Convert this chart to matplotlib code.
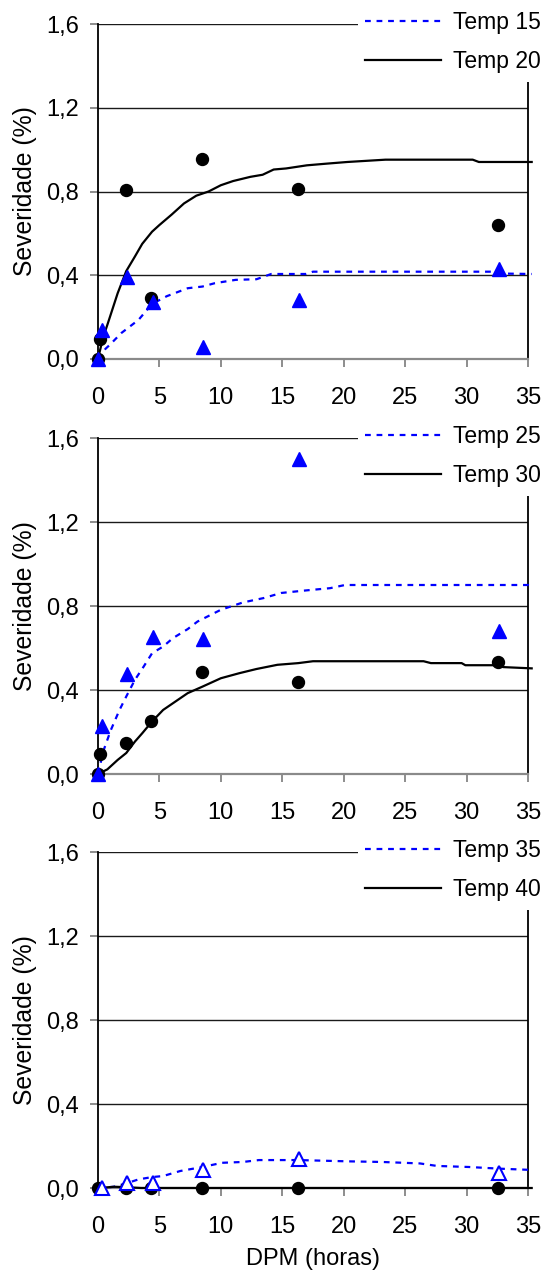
import matplotlib
matplotlib.use("Agg")
import matplotlib.pyplot as plt
from matplotlib.lines import Line2D
from matplotlib.patches import Rectangle

plt.rcParams['font.family'] = ['Liberation Sans', 'DejaVu Sans']

# ---------------- data ----------------
y_ticks = [0.0, 0.4, 0.8, 1.2, 1.6]
y_tick_labels = ["0,0", "0,4", "0,8", "1,2", "1,6"]
x_ticks = [0, 5, 10, 15, 20, 25, 30, 35]
x_tick_labels = ["0", "5", "10", "15", "20", "25", "30", "35"]

obs_x_circ = [0, 0.2, 2.3, 4.35, 8.5, 16.25, 32.55]
obs_x_tri = [0, 0.3, 2.4, 4.45, 8.55, 16.35, 32.65]
obs_x_circ_p3 = [0, 2.3, 4.35, 8.5, 16.25, 32.55]
obs_x_tri_p3 = [0.3, 2.4, 4.45, 8.55, 16.35, 32.65]

# Panel 1
t15_obs = [0.0, 0.14, 0.39, 0.27, 0.058, 0.28, 0.43]
t20_obs = [0.0, 0.096, 0.806, 0.29, 0.954, 0.814, 0.64]
t15_fit_x = [0, 0.6, 1.0, 1.9, 3.3, 4.4, 5.6, 7.3, 8.5, 9.5, 11.2, 12.9, 14.1, 16.9, 17.5, 25, 32, 33, 35.3]
t15_fit_y = [0.0, 0.048, 0.07, 0.124, 0.187, 0.263, 0.30, 0.338, 0.346, 0.362, 0.378, 0.381, 0.406, 0.406, 0.417, 0.417, 0.417, 0.408, 0.406]
t20_fit_x = [0, 0.4, 0.8, 1.6, 2.3, 3.0, 3.6, 4.4, 5.0, 6.0, 7.0, 8.0, 9.0, 10.0, 11.0, 12.4, 13.4, 14.3, 15.3, 17.0, 18.6, 20.3, 23.4, 30.5, 31.0, 35.3]
t20_fit_y = [0.0, 0.10, 0.17, 0.314, 0.42, 0.489, 0.55, 0.608, 0.64, 0.69, 0.743, 0.78, 0.80, 0.83, 0.85, 0.87, 0.88, 0.905, 0.91, 0.925, 0.933, 0.941, 0.952, 0.952, 0.941, 0.941]

# Panel 2
t25_obs = [0.0, 0.229, 0.477, 0.653, 0.644, 1.50, 0.68]
t30_obs = [0.0, 0.095, 0.15, 0.253, 0.485, 0.437, 0.533]
t25_fit_x = [0, 0.2, 0.5, 1.05, 1.75, 2.3, 3.0, 3.7, 4.4, 5.3, 6.1, 7.3, 8.1, 10.0, 11.8, 13.5, 14.9, 16.9, 18.9, 20.1, 35.0, 35.3]
t25_fit_y = [0.0, 0.05, 0.12, 0.21, 0.305, 0.369, 0.448, 0.51, 0.575, 0.607, 0.647, 0.69, 0.726, 0.782, 0.817, 0.838, 0.862, 0.874, 0.885, 0.90, 0.90, 0.893]
t30_fit_x = [0, 0.76, 1.6, 2.3, 3.0, 3.6, 4.4, 5.3, 6.1, 7.3, 8.5, 10.0, 11.5, 12.9, 14.6, 16.3, 17.5, 26.5, 27.1, 29.6, 29.9, 32.5, 33.0, 35.3]
t30_fit_y = [0.0, 0.022, 0.067, 0.10, 0.154, 0.194, 0.25, 0.305, 0.337, 0.385, 0.416, 0.456, 0.48, 0.50, 0.52, 0.528, 0.537, 0.537, 0.528, 0.528, 0.518, 0.518, 0.509, 0.503]

# Panel 3
t35_obs = [0.0, 0.024, 0.024, 0.086, 0.136, 0.073]
t40_obs = [0.0, 0.0, 0.0, 0.0, 0.0, 0.0]
t35_fit_x = [0, 0.2, 1.3, 2.3, 3.3, 4.4, 5.3, 6.7, 8.5, 10.1, 11.8, 13.1, 16.3, 20.3, 23.1, 26.2, 27.6, 30.2, 32.7, 35.3]
t35_fit_y = [0.0, 0.0, 0.006, 0.022, 0.041, 0.052, 0.057, 0.081, 0.10, 0.12, 0.124, 0.133, 0.133, 0.127, 0.124, 0.117, 0.105, 0.10, 0.092, 0.086]
t40_fit_x = [0, 0.5, 1.3, 2.3, 3.5, 10, 20, 35.3]
t40_fit_y = [0.0, 0.002, 0.006, 0.004, 0.0, 0.0, 0.0, 0.0]

panels = [
    ("Temp 15", "Temp 20", obs_x_tri, t15_obs, obs_x_circ, t20_obs,
     t15_fit_x, t15_fit_y, t20_fit_x, t20_fit_y, True),
    ("Temp 25", "Temp 30", obs_x_tri, t25_obs, obs_x_circ, t30_obs,
     t25_fit_x, t25_fit_y, t30_fit_x, t30_fit_y, True),
    ("Temp 35", "Temp 40", obs_x_tri_p3, t35_obs, obs_x_circ_p3, t40_obs,
     t35_fit_x, t35_fit_y, t40_fit_x, t40_fit_y, False),
]

# ---------------- figure ----------------
W, H = 545, 1270
fig = plt.figure(figsize=(W / 100, H / 100), dpi=100)
BLUE = '#0000FF'
FS = 17
FS_LEG = 16.5
dash = (0, (2.6, 2.6))

left_px, right_px = 98, 528
tops = [24, 438, 852]
bottoms = [359, 774, 1188]

axes = []
for i, (lab_a, lab_b, xa, obs_a, xb, obs_b, fxa, fya, fxb, fyb, filled) in enumerate(panels):
    ax = fig.add_axes([left_px / W, 1 - bottoms[i] / H,
                       (right_px - left_px) / W, (bottoms[i] - tops[i]) / H])
    axes.append(ax)
    ax.set_xlim(0, 35)
    ax.set_ylim(0, 1.6)
    ax.yaxis.grid(True, color='#1a1a1a', lw=1.0)
    ax.set_axisbelow(True)
    ax.spines['top'].set_visible(False)
    ax.spines['left'].set_color('black')
    ax.spines['left'].set_linewidth(1.3)
    ax.spines['right'].set_color('black')
    ax.spines['right'].set_linewidth(1.3)
    ax.spines['bottom'].set_color('#8a8a8a')
    ax.spines['bottom'].set_linewidth(1.6)
    ax.set_yticks(y_ticks)
    ax.set_yticklabels(y_tick_labels)
    ax.set_xticks(x_ticks)
    ax.set_xticklabels(x_tick_labels)
    ax.tick_params(axis='both', direction='out', length=5.8, width=1.2,
                   color='#7a7a7a', labelsize=FS)
    ax.tick_params(axis='y', pad=8.0)
    ax.tick_params(axis='x', pad=14.5)
    ax.set_ylabel("Severidade (%)", fontsize=17.8)
    ax.yaxis.set_label_coords(-0.143, 0.5)

    # fitted curves
    ax.plot(fxa, fya, color=BLUE, lw=1.6, linestyle=dash, clip_on=False, zorder=3)
    ax.plot(fxb, fyb, color='black', lw=1.6, clip_on=False, zorder=3)
    # observations
    ax.plot(xb, obs_b, linestyle='none', marker='o', ms=8.6,
            color='black', clip_on=False, zorder=4)
    if filled:
        ax.plot(xa, obs_a, linestyle='none', marker='^', ms=9.5,
                color=BLUE, clip_on=False, zorder=5)
    else:
        ax.plot(xa, obs_a, linestyle='none', marker='^', ms=9.5,
                markerfacecolor='white', markeredgecolor=BLUE, markeredgewidth=1.5,
                clip_on=False, zorder=5)

    # white legend area
    ax.add_patch(Rectangle((0.605, 1 - 58 / 336), 0.5, 0.2, transform=ax.transAxes,
                           facecolor='white', edgecolor='none', clip_on=False, zorder=6))
    handles = [Line2D([], [], color=BLUE, lw=1.6, linestyle=dash),
               Line2D([], [], color='black', lw=1.6)]
    leg = ax.legend(handles, [lab_a, lab_b], loc='center left',
                    bbox_to_anchor=(0.621, 1 - 18 / 336), frameon=False,
                    fontsize=FS_LEG, handlelength=3.3, handletextpad=0.55,
                    labelspacing=0.72, borderpad=0, borderaxespad=0)
    leg.set_zorder(7)

axes[2].set_xlabel("DPM (horas)", fontsize=FS)
axes[2].xaxis.set_label_coords(0.5, -0.178)

fig.savefig("out.png", dpi=100)
